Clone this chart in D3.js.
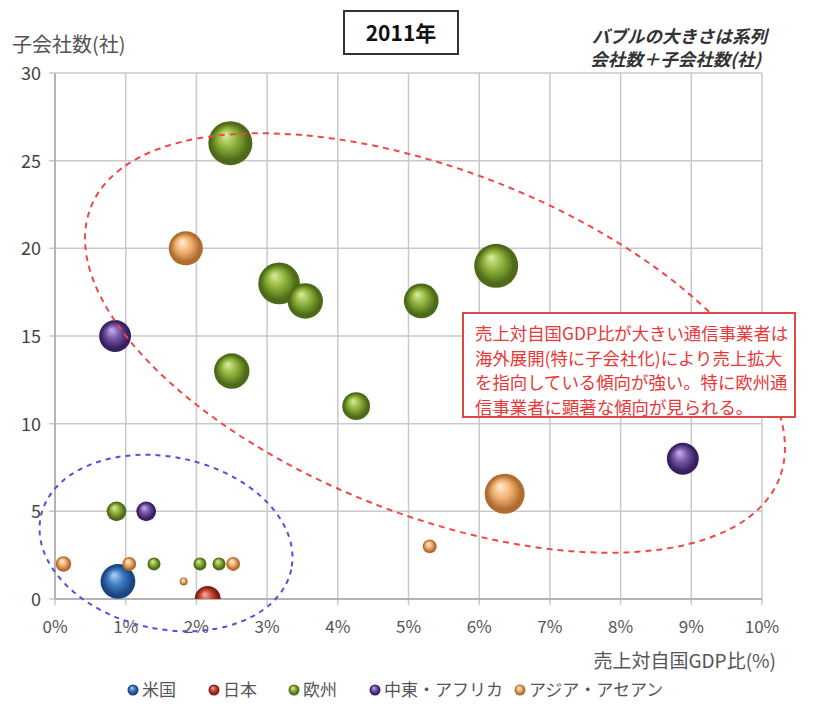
<!DOCTYPE html>
<html><head><meta charset="utf-8">
<script src="https://cdn.jsdelivr.net/npm/d3@7"></script>
<style>
body{margin:0;background:#fff;}
text{font-family:"Noto Sans CJK JP","Noto Sans",sans-serif;}
</style></head>
<body><svg id="c" width="830" height="707"></svg>
<script>
// ---- data ----
const seriesNames = ["米国","日本","欧州","中東・アフリカ","アジア・アセアン"];
const usX = [0.89], usY = [1], usS = [25];
const jpX = [2.16], jpY = [0], jpS = [14];
const euX = [2.48, 3.17, 3.54, 5.18, 6.24, 2.50, 4.26, 0.87, 1.40, 2.05, 2.32];
const euY = [26, 18, 17, 17, 19, 13, 11, 5, 2, 2, 2];
const euS = [40, 36, 26, 25, 40, 26, 16, 8, 3.5, 3.5, 3.5];
const meX = [0.85, 8.88, 1.29];
const meY = [15, 8, 5];
const meS = [21, 21, 8];
const asX = [1.85, 6.36, 5.30, 0.12, 1.05, 1.82, 2.52];
const asY = [20, 6, 3, 2, 2, 1, 2];
const asS = [24, 33, 4, 5, 4, 1.3, 4];
const xTicks = [0,1,2,3,4,5,6,7,8,9,10];
const yTicks = [0,5,10,15,20,25,30];
const titleText = "2011年";
const yTitle = "子会社数(社)";
const xTitle = "売上対自国GDP比(%)";
const noteLines = ["バブルの大きさは系列","会社数＋子会社数(社)"];
const boxLines = ["売上対自国GDP比が大きい通信事業者は","海外展開(特に子会社化)により売上拡大","を指向している傾向が強い。特に欧州通","信事業者に顕著な傾向が見られる。"];

const colors = [
  {hi:"#b9d4f2", base:"#3d7cc4", dark:"#1a4580"},
  {hi:"#f4b0a4", base:"#c8483a", dark:"#7e1e14"},
  {hi:"#dcee9c", base:"#8cb13a", dark:"#4d6a18"},
  {hi:"#c8b4ec", base:"#7454a6", dark:"#382060"},
  {hi:"#fff0d8", base:"#f2b272", dark:"#b06c30"}
];
const groups = [
  [usX,usY,usS],[jpX,jpY,jpS],[euX,euY,euS],[meX,meY,meS],[asX,asY,asS]
];

const svg = d3.select("#c");
const L=55, R=762, T=73, B=599;
const x = d3.scaleLinear().domain([0,10]).range([L,R]);
const y = d3.scaleLinear().domain([0,30]).range([B,T]);
const r = d3.scaleSqrt().domain([0,40]).range([0,22]);

const defs = svg.append("defs");
colors.forEach((c,i)=>{
  const g = defs.append("radialGradient").attr("id","g"+i)
    .attr("cx","50%").attr("cy","50%").attr("r","50%").attr("fx","38%").attr("fy","30%");
  g.append("stop").attr("offset","0%").attr("stop-color",c.hi);
  g.append("stop").attr("offset","45%").attr("stop-color",c.base);
  g.append("stop").attr("offset","85%").attr("stop-color",c.dark);
  g.append("stop").attr("offset","100%").attr("stop-color",c.dark);
});
defs.append("clipPath").attr("id","plotclip").append("rect")
  .attr("x",L-30).attr("y",T-30).attr("width",R-L+60).attr("height",B-T+30);

// grid
svg.append("g").selectAll("line.v").data(xTicks).join("line")
  .attr("x1",d=>x(d)).attr("x2",d=>x(d)).attr("y1",T).attr("y2",B+6)
  .attr("stroke","#c9c9c9").attr("stroke-width",1.5);
svg.append("g").selectAll("line.h").data(yTicks).join("line")
  .attr("x1",L-6).attr("x2",R).attr("y1",d=>y(d)).attr("y2",d=>y(d))
  .attr("stroke","#c9c9c9").attr("stroke-width",1.5);
svg.append("line").attr("x1",L).attr("x2",L).attr("y1",T).attr("y2",B).attr("stroke","#a8a8a8").attr("stroke-width",1.5);
svg.append("line").attr("x1",L).attr("x2",R).attr("y1",B).attr("y2",B).attr("stroke","#a8a8a8").attr("stroke-width",1.5);

// tick labels
svg.append("g").selectAll("text").data(xTicks).join("text")
  .attr("x",d=>x(d)).attr("y",B+34).attr("text-anchor","middle")
  .attr("font-size",17).attr("fill","#555").text(d=>d+"%");
svg.append("g").selectAll("text").data(yTicks).join("text")
  .attr("x",L-14).attr("y",d=>y(d)+7).attr("text-anchor","end")
  .attr("font-size",18).attr("fill","#444").text(d=>d);

// titles
svg.append("text").attr("x",12).attr("y",52).attr("font-size",20).attr("fill","#555").text(yTitle);
svg.append("text").attr("x",776).attr("y",668).attr("text-anchor","end").attr("font-size",19).attr("fill","#555").text(xTitle);
svg.append("rect").attr("x",344).attr("y",11).attr("width",114).attr("height",43)
  .attr("fill","#fff").attr("stroke","#333").attr("stroke-width",2);
svg.append("text").attr("x",401).attr("y",41).attr("text-anchor","middle")
  .attr("font-size",21).attr("font-weight","bold").attr("fill","#111").text(titleText);
noteLines.forEach((t,i)=>{
  svg.append("text").attr("x",767 - i*6).attr("y",43+i*23).attr("text-anchor","end")
    .attr("font-size",17.5).attr("font-style","italic").attr("font-weight","bold")
    .attr("fill","#333").text(t);
});

// bubbles
const pts = [];
groups.forEach((g,gi)=>{
  g[0].forEach((xv,i)=>pts.push({x:xv,y:g[1][i],s:g[2][i],c:gi}));
});
pts.sort((a,b)=>b.s-a.s);
svg.append("g").attr("clip-path","url(#plotclip)").selectAll("circle").data(pts).join("circle")
  .attr("cx",d=>x(d.x)).attr("cy",d=>y(d.y)).attr("r",d=>r(d.s))
  .attr("fill",d=>"url(#g"+d.c+")");

// ellipses
svg.append("ellipse").attr("cx",0).attr("cy",0).attr("rx",370).attr("ry",172)
  .attr("transform","translate(435,343) rotate(21.5)")
  .attr("fill","none").attr("stroke","#f04848").attr("stroke-width",2).attr("stroke-dasharray","6,5");
svg.append("ellipse").attr("cx",0).attr("cy",0).attr("rx",128).attr("ry",86)
  .attr("transform","translate(166,543) rotate(12)")
  .attr("fill","none").attr("stroke","#5050e0").attr("stroke-width",2).attr("stroke-dasharray","5,5");

// annotation box
svg.append("rect").attr("x",463).attr("y",313).attr("width",332).attr("height",104)
  .attr("fill","#fff").attr("stroke","#e04848").attr("stroke-width",2);
boxLines.forEach((t,i)=>{
  svg.append("text").attr("x",475).attr("y",340+i*24.7).attr("font-size",17.4)
    .attr("fill","#e83838").text(t);
});

// legend
const legX = [133, 214, 294, 375, 520];
seriesNames.forEach((n,i)=>{
  svg.append("circle").attr("cx",legX[i]).attr("cy",690).attr("r",5.5).attr("fill","url(#g"+i+")");
  svg.append("text").attr("x",legX[i]+9).attr("y",696).attr("font-size",17).attr("fill","#555").text(n);
});
</script></body></html>
